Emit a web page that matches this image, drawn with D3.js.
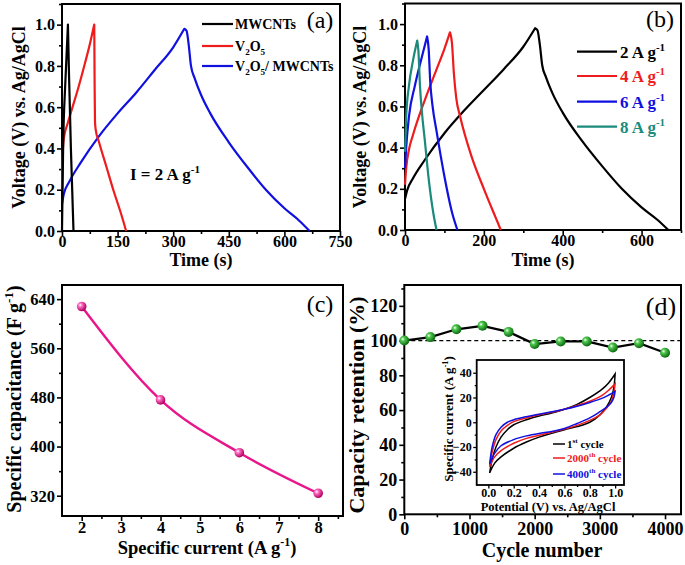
<!DOCTYPE html>
<html><head><meta charset="utf-8">
<script src="https://cdn.jsdelivr.net/npm/d3@7"></script>
<style>
body{margin:0;background:#fff}
text{font-family:"Liberation Serif","Times New Roman",serif;font-weight:bold;fill:#000}
</style></head>
<body><svg id="chart" width="685" height="565"></svg>
<script>
// ---------- DATA ----------
// Panel (a): GCD at 2 A/g
const mwT = [0, 3, 9, 16, 19, 24, 31];
const mwV = [0.0, 0.4, 0.72, 1.0, 0.75, 0.4, 0.0];
const mwPeak = 3;
const v2o5T = [0, 2, 5, 15, 25, 45, 63, 77, 87, 88, 89, 91, 100, 120, 140, 160, 173];
const v2o5V = [0.2, 0.38, 0.45, 0.52, 0.58, 0.70, 0.82, 0.92, 1.0, 0.72, 0.53, 0.49, 0.43, 0.31, 0.19, 0.08, 0.0];
const v2o5Peak = 8;
const compT = [0, 5, 20, 50, 100, 150, 200, 250, 300, 330, 336, 342, 348, 358, 375, 400, 450, 500, 550, 600, 640, 668];
const compV = [0.13, 0.18, 0.24, 0.33, 0.46, 0.57, 0.67, 0.78, 0.89, 0.98, 0.97, 0.9, 0.8, 0.74, 0.66, 0.57, 0.43, 0.31, 0.2, 0.11, 0.05, 0.0];
const compPeak = 9;

// Panel (b): composite at different current densities
const b2T = [0, 5, 20, 50, 100, 150, 200, 250, 300, 330, 336, 342, 348, 358, 375, 400, 450, 500, 550, 600, 640, 668];
const b2V = [0.15, 0.19, 0.25, 0.34, 0.47, 0.58, 0.68, 0.78, 0.89, 0.98, 0.97, 0.9, 0.8, 0.74, 0.66, 0.57, 0.43, 0.31, 0.2, 0.11, 0.05, 0.0];
const b2Peak = 9;
const b4T = [0, 3, 10, 20, 50, 80, 100, 114, 119, 124, 130, 140, 170, 200, 230, 243];
const b4V = [0.22, 0.3, 0.39, 0.46, 0.63, 0.78, 0.88, 0.96, 0.91, 0.76, 0.64, 0.55, 0.35, 0.2, 0.06, 0.0];
const b4Peak = 7;
const b6T = [0, 3, 10, 25, 40, 56, 60, 64, 70, 80, 100, 120, 133];
const b6V = [0.3, 0.4, 0.55, 0.7, 0.82, 0.94, 0.88, 0.72, 0.6, 0.48, 0.26, 0.08, 0.0];
const b6Peak = 5;
const b8T = [0, 3, 10, 20, 31, 34, 38, 44, 50, 60, 72, 80];
const b8V = [0.38, 0.55, 0.7, 0.82, 0.92, 0.87, 0.7, 0.55, 0.44, 0.25, 0.08, 0.0];
const b8Peak = 4;

// Panel (c): specific capacitance
const currents = [2, 4, 6, 8];
const capacitance = [628, 476, 390, 324];

// Panel (d): capacity retention
const cycles = [0, 400, 800, 1200, 1600, 2000, 2400, 2800, 3200, 3600, 4000];
const retention = [100, 102, 106.5, 108.5, 105, 98, 99.5, 99.5, 96, 98.5, 93];

// Inset: CV curves
const cvFwdE = [0.01, 0.03, 0.06, 0.1, 0.15, 0.2, 0.3, 0.4, 0.5, 0.6, 0.7, 0.8, 0.9, 0.95, 1.0];
const cvRevE = [1.0, 0.99, 0.97, 0.93, 0.88, 0.8, 0.7, 0.6, 0.5, 0.4, 0.3, 0.2, 0.1, 0.05, 0.01];
const cv1Fwd = [-41, -30, -20, -12, -6, -2, 2, 5, 7.5, 10.5, 14.5, 20, 27, 32, 39];
const cv1Rev = [39, 28, 20, 12, 6, 0, -3.5, -6, -9, -12, -16, -21, -28, -33, -41];
const cv2000Fwd = [-36, -24, -14, -7, -2.5, 0.5, 3.5, 6, 8, 10.5, 13.5, 17, 22, 26, 31];
const cv2000Rev = [31, 24, 17, 11, 6, 1.5, -2.5, -5.5, -8, -10.5, -13, -17, -23, -28, -36];
const cv4000Fwd = [-34, -20, -10, -4, 0, 2, 4.5, 6.5, 8.5, 10.5, 13, 16, 19.5, 22, 25];
const cv4000Rev = [25, 20, 16, 12, 8.5, 3.5, -1, -5, -7.5, -9, -11, -14, -19, -25, -34];

// Tick values
const aXTicks = [0, 150, 300, 450, 600, 750];
const aYTicks = [0.0, 0.2, 0.4, 0.6, 0.8, 1.0];
const bXTicks = [0, 200, 400, 600];
const cXTicks = [2, 3, 4, 5, 6, 7, 8];
const cYTicks = [320, 400, 480, 560, 640];
const dXTicks = [0, 1000, 2000, 3000, 4000];
const dYTicks = [0, 20, 40, 60, 80, 100, 120];
const inXTicks = [0.0, 0.2, 0.4, 0.6, 0.8, 1.0];
const inYTicks = [-40, -20, 0, 20, 40];

// ---------- DRAW ----------
const svg = d3.select("#chart");
const defs = svg.append("defs");
function ballGrad(id, light, dark) {
  const g = defs.append("radialGradient").attr("id", id).attr("cx", "35%").attr("cy", "35%").attr("r", "65%");
  g.append("stop").attr("offset", "0%").attr("stop-color", "#ffffff");
  g.append("stop").attr("offset", "30%").attr("stop-color", light);
  g.append("stop").attr("offset", "100%").attr("stop-color", dark);
}
ballGrad("pinkBall", "#ff6ec4", "#b0005e");
ballGrad("greenBall", "#4fc84f", "#0e6a12");

function range(a, b, s) { const r = []; for (let v = a; v <= b + 1e-9; v += s) r.push(+v.toFixed(6)); return r; }

function panel(o) {
  const x = d3.scaleLinear().domain(o.xd).range([o.x0, o.x1]);
  const y = d3.scaleLinear().domain(o.yd).range([o.y0, o.y1]);
  const g = svg.append("g");
  const fs = o.fs || 16;
  g.append("g").attr("transform", `translate(0,${o.y0})`)
    .call(d3.axisBottom(x).tickValues(o.xMinor).tickSize(o.minorLen || 3).tickFormat(""))
    .call(s => s.select(".domain").remove());
  g.append("g").attr("transform", `translate(${o.x0},0)`)
    .call(d3.axisLeft(y).tickValues(o.yMinor).tickSize(o.minorLen || 3).tickFormat(""))
    .call(s => s.select(".domain").remove());
  const ax = g.append("g").attr("transform", `translate(0,${o.y0})`)
    .call(d3.axisBottom(x).tickValues(o.xTicks).tickSize(o.majorLen || 5).tickPadding(o.xPad ?? 0).tickFormat(o.xFmt))
    .call(s => s.select(".domain").remove());
  ax.selectAll("text").style("font-size", fs + "px");
  const ay = g.append("g").attr("transform", `translate(${o.x0},0)`)
    .call(d3.axisLeft(y).tickValues(o.yTicks).tickSize(o.majorLen || 5).tickPadding(o.yPad ?? 2).tickFormat(o.yFmt))
    .call(s => s.select(".domain").remove());
  ay.selectAll("text").style("font-size", fs + "px");
  g.selectAll(".tick line").attr("stroke", "#000").attr("stroke-width", o.tw || 1.6);
  g.append("rect").attr("x", o.x0).attr("y", o.y1).attr("width", o.x1 - o.x0).attr("height", o.y0 - o.y1)
    .attr("fill", "none").attr("stroke", "#000").attr("stroke-width", o.fw || 2);
  return {x, y, g};
}

function supText(sel, parts, size) {
  let state = 'n';
  parts.forEach(([t, m]) => {
    const ts = sel.append("tspan").text(t);
    let dy = 0;
    const off = size * 0.42;
    if (state === 'n' && m === 'sup') dy = -off;
    if (state === 'sup' && m === 'n') dy = off;
    if (state === 'n' && m === 'sub') dy = off * 0.7;
    if (state === 'sub' && m === 'n') dy = -off * 0.7;
    if (dy) ts.attr("dy", dy);
    if (m !== 'n') ts.style("font-size", (size * 0.65) + "px");
    state = m;
  });
  return sel;
}

function gcd(p, T, V, peak, color) {
  const pts = T.map((t, i) => [p.x(t), p.y(V[i])]);
  const line = d3.line().curve(d3.curveMonotoneX);
  p.g.append("path").attr("d", line(pts.slice(0, peak + 1)) + line(pts.slice(peak)).replace(/^M/, "L"))
    .attr("fill", "none").attr("stroke", color).attr("stroke-width", 2.2).attr("stroke-linejoin", "round");
}

const fmt1 = d3.format(".1f");

// ----- Panel (a) -----
const pa = panel({x0: 62, x1: 340, y0: 231, y1: 4, xd: [0, 750], yd: [0, 1.1],
  xTicks: aXTicks, xMinor: range(75, 675, 150), yTicks: aYTicks, yMinor: range(0.1, 1.1, 0.2),
  xFmt: d3.format("d"), yFmt: fmt1});
gcd(pa, compT, compV, compPeak, "#1010e0");
gcd(pa, v2o5T, v2o5V, v2o5Peak, "#ee1c1c");
gcd(pa, mwT, mwV, mwPeak, "#000");
svg.append("text").attr("x", 201).attr("y", 266).attr("text-anchor", "middle").style("font-size", "18px").text("Time (s)");
svg.append("text").attr("transform", "translate(25,117.5) rotate(-90)").attr("text-anchor", "middle").style("font-size", "18px").text("Voltage (V) vs. Ag/AgCl");
svg.append("text").attr("x", 320).attr("y", 28).attr("text-anchor", "middle").style("font-size", "24px").style("font-weight", "normal").text("(a)");
const aLeg = [["MWCNTs", "#000", 24], ["V2O5", "#ee1c1c", 46], ["V2O5/ MWCNTs", "#1010e0", 66]];
aLeg.forEach(([lab, c, yy]) => {
  svg.append("line").attr("x1", 202).attr("x2", 233).attr("y1", yy).attr("y2", yy).attr("stroke", c).attr("stroke-width", 2.2);
  const t = svg.append("text").attr("x", 235).attr("y", yy + 5).style("font-size", "14px");
  if (lab === "MWCNTs") t.text(lab);
  else if (lab === "V2O5") supText(t, [["V", 'n'], ["2", 'sub'], ["O", 'n'], ["5", 'sub']], 14);
  else supText(t, [["V", 'n'], ["2", 'sub'], ["O", 'n'], ["5", 'sub'], ["/ MWCNTs", 'n']], 14);
});
supText(svg.append("text").attr("x", 130).attr("y", 180).style("font-size", "17px"),
  [["I = 2 A g", 'n'], ["-1", 'sup']], 17);

// ----- Panel (b) -----
const pb = panel({x0: 405, x1: 681, y0: 230, y1: 3.5, xd: [0, 700], yd: [0, 1.1],
  xTicks: bXTicks, xMinor: range(100, 700, 200), yTicks: aYTicks, yMinor: range(0.1, 1.1, 0.2),
  xFmt: d3.format("d"), yFmt: fmt1});
gcd(pb, b2T, b2V, b2Peak, "#000");
gcd(pb, b4T, b4V, b4Peak, "#ee1c1c");
gcd(pb, b6T, b6V, b6Peak, "#1010e0");
gcd(pb, b8T, b8V, b8Peak, "#1a8a7c");
svg.append("text").attr("x", 543).attr("y", 266).attr("text-anchor", "middle").style("font-size", "18px").text("Time (s)");
svg.append("text").attr("transform", "translate(366,117) rotate(-90)").attr("text-anchor", "middle").style("font-size", "18px").text("Voltage (V) vs. Ag/AgCl");
svg.append("text").attr("x", 660).attr("y", 27).attr("text-anchor", "middle").style("font-size", "24px").style("font-weight", "normal").text("(b)");
const bLeg = [["2", "#000", 51.7], ["4", "#ee1c1c", 76], ["6", "#1010e0", 101.7], ["8", "#1a8a7c", 126.7]];
bLeg.forEach(([n, c, yy]) => {
  svg.append("line").attr("x1", 577).attr("x2", 617).attr("y1", yy).attr("y2", yy).attr("stroke", c).attr("stroke-width", 2.2);
  const t = svg.append("text").attr("x", 620).attr("y", yy + 6).style("font-size", "17px").style("fill", c);
  supText(t, [[n + " A g", 'n'], ["-1", 'sup']], 17);
  t.selectAll("tspan").style("fill", c);
});

// ----- Panel (c) -----
const pc = panel({x0: 62, x1: 343, y0: 516, y1: 285, xd: [1.5, 8.63], yd: [287, 663],
  xTicks: cXTicks, xMinor: range(2.5, 8.5, 1), yTicks: cYTicks, yMinor: range(360, 600, 80),
  xFmt: d3.format("d"), yFmt: d3.format("d"), fs: 16.5, xPad: 0});
pc.g.append("path").datum(currents.map((c, i) => [pc.x(c), pc.y(capacitance[i])]))
  .attr("d", d3.line().curve(d3.curveMonotoneX)).attr("fill", "none").attr("stroke", "#e8168a").attr("stroke-width", 2.4);
pc.g.selectAll(".pt").data(currents).join("circle").attr("cx", d => pc.x(d)).attr("cy", (d, i) => pc.y(capacitance[i]))
  .attr("r", 4.8).attr("fill", "url(#pinkBall)");
supText(svg.append("text").attr("x", 207).attr("y", 554).attr("text-anchor", "middle").style("font-size", "18.5px"),
  [["Specific current (A g", 'n'], ["-1", 'sup'], [")", 'n']], 18.5);
supText(svg.append("text").attr("transform", "translate(21,399) rotate(-90)").attr("text-anchor", "middle").style("font-size", "20px"),
  [["Specific capacitance (F g", 'n'], ["-1", 'sup'], [")", 'n']], 20);
svg.append("text").attr("x", 320).attr("y", 312).attr("text-anchor", "middle").style("font-size", "24px").style("font-weight", "normal").text("(c)");

// ----- Panel (d) -----
const pd = panel({x0: 404.3, x1: 681, y0: 514.3, y1: 285, xd: [0, 4245], yd: [0, 132],
  xTicks: dXTicks, xMinor: range(500, 3500, 1000), yTicks: dYTicks, yMinor: range(10, 130, 20),
  xFmt: d3.format("d"), yFmt: d3.format("d"), fs: 18, xPad: 3});
pd.g.append("line").attr("x1", pd.x(0)).attr("x2", 681).attr("y1", pd.y(100)).attr("y2", pd.y(100))
  .attr("stroke", "#000").attr("stroke-width", 1.2).attr("stroke-dasharray", "4,3");
pd.g.append("path").datum(cycles.map((c, i) => [pd.x(c), pd.y(retention[i])]))
  .attr("d", d3.line()).attr("fill", "none").attr("stroke", "#000").attr("stroke-width", 2.2);
pd.g.selectAll(".pt").data(cycles).join("circle").attr("cx", d => pd.x(d)).attr("cy", (d, i) => pd.y(retention[i]))
  .attr("r", 5).attr("fill", "url(#greenBall)");
svg.append("text").attr("x", 542).attr("y", 557).attr("text-anchor", "middle").style("font-size", "20px").text("Cycle number");
svg.append("text").attr("transform", "translate(364,405) rotate(-90)").attr("text-anchor", "middle").style("font-size", "22px").text("Capacity retention (%)");
svg.append("text").attr("x", 661).attr("y", 315).attr("text-anchor", "middle").style("font-size", "26px").style("font-weight", "normal").text("(d)");

// ----- Inset -----
svg.append("rect").attr("x", 476.7).attr("y", 360).attr("width", 147.3).attr("height", 125).attr("fill", "#fff");
const pi = panel({x0: 476.7, x1: 624, y0: 485, y1: 360, xd: [-0.092, 1.07], yd: [-50.7, 50.3],
  xTicks: inXTicks, xMinor: range(0.1, 0.9, 0.2), yTicks: inYTicks, yMinor: range(-30, 30, 20),
  xFmt: fmt1, yFmt: d3.format("d"), fs: 12, majorLen: 3.5, minorLen: 2, tw: 1.3, fw: 1.8, xPad: 0, yPad: 1.5});
function cv(fwd, rev, color) {
  const pts = cvFwdE.map((e, i) => [pi.x(e), pi.y(fwd[i])]);
  const pts2 = cvRevE.map((e, i) => [pi.x(e), pi.y(rev[i])]);
  const l = d3.line().curve(d3.curveCatmullRom.alpha(0.5));
  pi.g.append("path").attr("d", l(pts) + l(pts2).replace(/^M/, "L")).attr("fill", "none")
    .attr("stroke", color).attr("stroke-width", 1.5);
}
cv(cv1Fwd, cv1Rev, "#000");
cv(cv2000Fwd, cv2000Rev, "#ee1c1c");
cv(cv4000Fwd, cv4000Rev, "#1010e0");
svg.append("text").attr("x", 548).attr("y", 511).attr("text-anchor", "middle").style("font-size", "12.5px").text("Potential (V) vs. Ag/AgCl");
supText(svg.append("text").attr("transform", "translate(453,419) rotate(-90)").attr("text-anchor", "middle").style("font-size", "13px"),
  [["Specific current  (A g", 'n'], ["-1", 'sup'], [")", 'n']], 13);
const inLeg = [["1", "st", "#000", 444], ["2000", "th", "#ee1c1c", 458], ["4000", "th", "#1010e0", 474]];
inLeg.forEach(([n, s, c, yy]) => {
  svg.append("line").attr("x1", 553).attr("x2", 565).attr("y1", yy).attr("y2", yy).attr("stroke", c).attr("stroke-width", 1.5);
  const t = svg.append("text").attr("x", 567).attr("y", yy + 4).style("font-size", "11px");
  supText(t, [[n, 'n'], [s, 'sup'], [" cycle", 'n']], 11);
  t.selectAll("tspan").style("fill", c);
});
</script></body></html>
